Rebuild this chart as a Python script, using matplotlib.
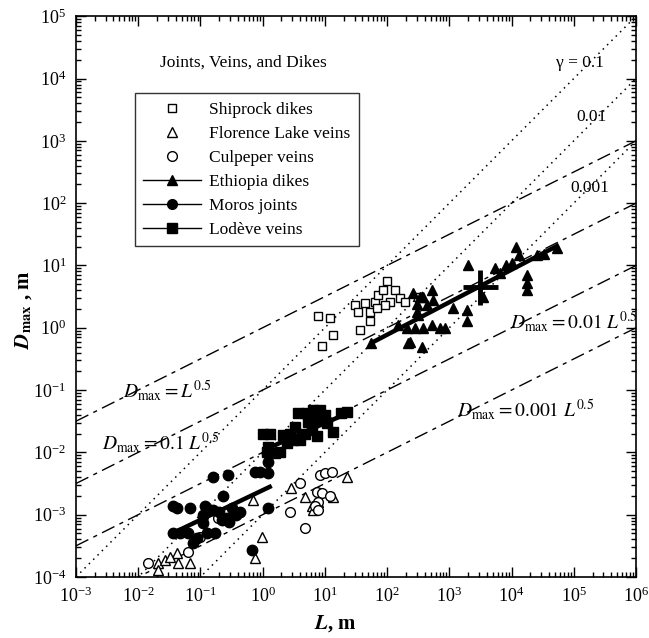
import numpy as np
import matplotlib
matplotlib.use('Agg')
import matplotlib.pyplot as plt
from matplotlib.lines import Line2D

plt.rcParams['font.family'] = ['Liberation Serif', 'DejaVu Serif']
plt.rcParams['mathtext.fontset'] = 'stix'

# ── data ─────────────────────────────────────────────────────
shiprock_L = [7.8, 12, 13.5, 9, 37, 31, 34, 44, 54, 54, 65, 72, 87, 100, 112, 135, 162, 195, 93, 69, 316]
shiprock_D = [1.55, 1.43, 0.76, 0.51, 0.93, 2.3, 1.8, 2.5, 1.8, 1.3, 2.6, 3.3, 4.0, 5.7, 2.6, 4.0, 3.0, 2.6, 2.3, 2.1, 3.1]

florence_L = [2.9, 4.8, 6.2, 6.5, 7.8, 13.5, 23, 0.98, 0.76, 0.71,
              0.021, 0.027, 0.042, 0.044, 0.068, 0.021, 0.032]
florence_D = [0.0027, 0.0019, 0.0014, 0.0012, 0.0016, 0.0019, 0.0040, 0.00044, 0.0002, 0.0017,
              0.00017, 0.00019, 0.00024, 0.00017, 0.00017, 0.00013, 0.00021]

culpeper_L = [4.0, 8.3, 10, 13, 7.4, 9, 12, 7.8, 6.9, 7.8, 2.8, 4.8,
              0.11, 0.19, 0.1, 0.063, 0.0145]
culpeper_D = [0.0032, 0.0044, 0.0047, 0.0048, 0.0023, 0.0022, 0.0020, 0.0016, 0.0014, 0.0012, 0.0011, 0.00062,
              0.00093, 0.00089, 0.00044, 0.00025, 0.00017]

ethiopia_L = [55, 218, 360, 234, 150, 210, 280, 380, 520, 710, 850,
              520, 380, 300, 440, 550, 1150, 1950, 1950, 2000, 340, 316, 260, 300,
              1.2e4, 1.3e4, 5500, 6600, 1.8e4, 1.8e4, 1.8e4, 2.6e4, 5.4e4, 3500,
              8000, 1.0e4, 3.3e4]
ethiopia_D = [0.58, 0.56, 0.49, 0.6, 1.1, 1.0, 1.0, 1.0, 1.1, 1.0, 1.0,
              4.0, 3.1, 1.8, 2.3, 2.75, 2.1, 1.9, 1.3, 10, 3.1, 1.6, 3.6, 2.4,
              19.5, 14.7, 9, 7.6, 6.9, 5.2, 4.0, 14.7, 19, 3.1,
              10, 11, 15]
ethiopia_fit_L = [54, 5.6e4]
ethiopia_fit_D = [0.56, 21]
ethiopia_mean_L, ethiopia_mean_D = 3160, 4.5
ethiopia_err_L = [[1500], [2840]]
ethiopia_err_D = [[2.2], [3.9]]

moros_L = [0.158, 0.275, 0.76, 0.91, 1.2, 1.2, 1.18, 0.23, 0.036, 0.042, 0.068, 0.12, 0.16,
           0.32, 0.43, 1.2, 0.22, 0.27, 0.036, 0.047, 0.063, 0.11, 0.13, 0.17, 0.076, 0.089,
           0.68, 0.11, 0.29, 0.37, 0.2]
moros_D = [0.0040, 0.0044, 0.0048, 0.0048, 0.0047, 0.0069, 0.0097, 0.0020, 0.0014, 0.0013, 0.0013, 0.0014, 0.0012,
           0.0013, 0.0011, 0.0013, 0.00082, 0.00089, 0.00051, 0.00051, 0.00051, 0.00074, 0.00051, 0.00051, 0.00035, 0.00042,
           0.00027, 0.00098, 0.00075, 0.0010, 0.0011]
moros_fit_L = [0.035, 1.4]
moros_fit_D = [5.0e-4, 2.9e-3]

lodeve_L = [1.0, 1.3, 1.6, 1.9, 1.2, 1.17, 2.1, 2.8, 3.3, 3.7, 5.1, 6.5, 8.4, 10, 11, 7.8, 5.4,
            6.2, 4.8, 4.0, 3.1, 2.5, 7.4, 13.5, 23, 18]
lodeve_D = [0.020, 0.020, 0.0098, 0.010, 0.012, 0.010, 0.019, 0.020, 0.026, 0.043, 0.043, 0.048, 0.048, 0.040, 0.030, 0.033, 0.031,
            0.023, 0.020, 0.016, 0.016, 0.014, 0.018, 0.021, 0.045, 0.043]
lodeve_fit_L = [1.0, 25]
lodeve_fit_D = [0.0107, 0.044]

# reference lines: D = c L^0.5 and D = gamma L
ref_L = np.array([1e-3, 1e6])
c_values = [1, 0.1, 0.01, 0.001]
gamma_values = [0.1, 0.01, 0.001]

# decade ticks inside the axis range only
x_decades = np.arange(-3, 7)
y_decades = np.arange(-4, 6)

# ── figure ───────────────────────────────────────────────────
fig = plt.figure(figsize=(6.49, 6.38), dpi=100)
ax = fig.add_axes([0.117, 0.0956, 0.863, 0.879])
ax.set_xscale('log')
ax.set_yscale('log')

for c in c_values:
    ax.plot(ref_L, c * ref_L ** 0.5, color='black', lw=1.0,
            dashes=(10, 4, 3, 4), zorder=1)
for g in gamma_values:
    ax.plot(ref_L, g * ref_L, color='black', lw=1.1,
            linestyle=(0, (1, 3)), zorder=1)

ms = 7
mk_open = dict(ls='none', mfc='white', mec='black', mew=1.0, zorder=3)
ax.plot(shiprock_L, shiprock_D, marker='s', ms=6, **mk_open)
ax.plot(florence_L, florence_D, marker='^', ms=ms, **mk_open)
ax.plot(culpeper_L, culpeper_D, marker='o', ms=ms, **mk_open)
ax.plot(ethiopia_L, ethiopia_D, ls='none', marker='^', ms=ms, color='black', zorder=4)
ax.plot(moros_L, moros_D, ls='none', marker='o', ms=ms + 0.5, color='black', zorder=4)
ax.plot(lodeve_L, lodeve_D, ls='none', marker='s', ms=ms - 0.5, color='black', zorder=4)

for fl, fd in [(ethiopia_fit_L, ethiopia_fit_D), (moros_fit_L, moros_fit_D), (lodeve_fit_L, lodeve_fit_D)]:
    ax.plot(fl, fd, color='black', lw=3.2, solid_capstyle='butt', zorder=5)
ax.errorbar([ethiopia_mean_L], [ethiopia_mean_D], xerr=ethiopia_err_L, yerr=ethiopia_err_D,
            fmt='none', ecolor='black', elinewidth=3.5, capsize=0, zorder=5)

ax.set_xlim(1e-3, 1e6)
ax.set_ylim(1e-4, 1e5)
ax.set_xticks(10.0 ** x_decades)
ax.set_yticks(10.0 ** y_decades)
ax.set_xticks([m * 10.0 ** k for k in x_decades[:-1] for m in range(2, 10)], minor=True)
ax.set_yticks([m * 10.0 ** k for k in y_decades[:-1] for m in range(2, 10)], minor=True)
ax.xaxis.set_major_formatter(matplotlib.ticker.LogFormatterSciNotation())
ax.yaxis.set_major_formatter(matplotlib.ticker.LogFormatterSciNotation())
ax.xaxis.set_minor_formatter(matplotlib.ticker.NullFormatter())
ax.yaxis.set_minor_formatter(matplotlib.ticker.NullFormatter())
ax.tick_params(which='both', direction='in', top=True, right=True, width=1.0)
ax.tick_params(which='major', length=7, labelsize=13, pad=7)
ax.tick_params(which='minor', length=3.5)
for s in ax.spines.values():
    s.set_linewidth(1.2)

# axis labels
ax.set_ylabel(r'$\boldsymbol{D}_{\mathbf{max}}$ , m', fontsize=15, fontweight='bold')
ax.yaxis.set_label_coords(-0.075, 0.476)
ax.set_xlabel(r'$\boldsymbol{L}$, m', fontsize=15, fontweight='bold')
ax.xaxis.set_label_coords(0.4625, -0.064)

# legend
handles = [
    Line2D([], [], ls='none', marker='s', ms=6, mfc='white', mec='black', mew=1.0),
    Line2D([], [], ls='none', marker='^', ms=ms, mfc='white', mec='black', mew=1.0),
    Line2D([], [], ls='none', marker='o', ms=ms, mfc='white', mec='black', mew=1.0),
    Line2D([], [], color='black', lw=1.0, marker='^', ms=ms),
    Line2D([], [], color='black', lw=1.0, marker='o', ms=ms),
    Line2D([], [], color='black', lw=1.0, marker='s', ms=ms - 0.5),
]
labels = ['Shiprock dikes', 'Florence Lake veins', 'Culpeper veins',
          'Ethiopia dikes', 'Moros joints', 'Lodève veins']
leg = ax.legend(handles, labels, loc='upper left', bbox_to_anchor=(0.105, 0.863),
                fontsize=12.5, frameon=True, fancybox=False, edgecolor='black',
                handlelength=3.3, handletextpad=0.5, labelspacing=0.45,
                borderpad=0.5, borderaxespad=0)
leg.get_frame().set_linewidth(1.0)

# texts
ax.text(0.15, 0.918, 'Joints, Veins, and Dikes', transform=ax.transAxes,
        fontsize=12.5, ha='left', va='center')
ax.text(0.90, 0.916, 'γ = 0.1', transform=ax.transAxes, fontsize=12.5, ha='center', va='center')
ax.text(0.921, 0.820, '0.01', transform=ax.transAxes, fontsize=12.5, ha='center', va='center')
ax.text(0.918, 0.693, '0.001', transform=ax.transAxes, fontsize=12.5, ha='center', va='center')

ax.text(0.084, 0.333, r'$D_{\rm max} = L^{0.5}$', transform=ax.transAxes,
        fontsize=14, ha='left', va='center')
ax.text(0.046, 0.239, r'$D_{\rm max} = 0.1\ L^{0.5}$', transform=ax.transAxes,
        fontsize=14, ha='left', va='center')
ax.text(0.775, 0.455, r'$D_{\rm max} = 0.01\ L^{0.5}$', transform=ax.transAxes,
        fontsize=14, ha='left', va='center')
ax.text(0.680, 0.298, r'$D_{\rm max} = 0.001\ L^{0.5}$', transform=ax.transAxes,
        fontsize=14, ha='left', va='center')

fig.savefig('out.png', dpi=100)
